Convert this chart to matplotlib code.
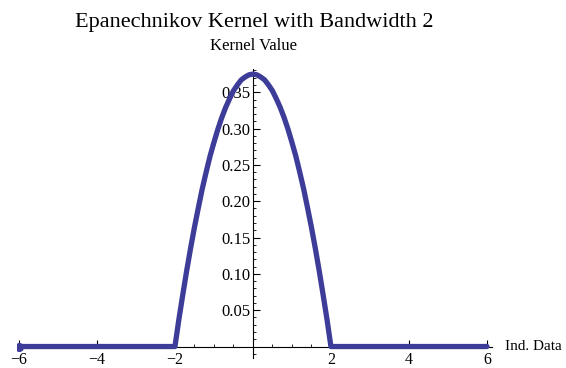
import matplotlib.pyplot as plt
import numpy as np
from matplotlib.ticker import MultipleLocator, FixedLocator
import matplotlib.transforms as mtransforms

plt.rcParams['font.family'] = ['Liberation Serif', 'DejaVu Serif']

# values (right half; curve is symmetric about 0)
x_half = [0.0, 0.1, 0.2, 0.3, 0.4, 0.5, 0.6, 0.7, 0.8, 0.9, 1.0,
          1.1, 1.2, 1.3, 1.4, 1.5, 1.6, 1.7, 1.8, 1.9, 2.0, 4.0, 6.0]
y_half = [0.375, 0.374, 0.371, 0.367, 0.360, 0.352, 0.341, 0.329, 0.315, 0.299, 0.281,
          0.262, 0.240, 0.217, 0.191, 0.164, 0.135, 0.104, 0.071, 0.037, 0.0, 0.0, 0.0]
xs = [-x for x in x_half[:0:-1]] + x_half
ys = y_half[:0:-1] + y_half

xticks = [-6, -4, -2, 2, 4, 6]
yticks = [0.05, 0.10, 0.15, 0.20, 0.25, 0.30, 0.35]

W, H = 566, 368
fig = plt.figure(figsize=(W / 100, H / 100), dpi=100)
ax = fig.add_axes([17 / W, 10 / H, 475 / W, 289 / H])
ax.set_xlim(-6.05, 6.13)
ax.set_ylim(-0.0158, 0.382)

col = '#3d3d99'
ax.plot(xs, ys, color=col, lw=3.8, solid_capstyle='round', solid_joinstyle='round', zorder=5)
ax.plot([xs[0]], [ys[0]], 'o', color=col, ms=5.5, zorder=5)

for s in ['top', 'right']:
    ax.spines[s].set_visible(False)
ax.spines['left'].set_position(('data', 0))
ax.spines['bottom'].set_position(('data', 0))
ax.spines['left'].set_linewidth(0.8)
ax.spines['bottom'].set_linewidth(0.8)

ax.xaxis.set_major_locator(FixedLocator(xticks))
ax.xaxis.set_minor_locator(MultipleLocator(0.5))
ax.yaxis.set_major_locator(FixedLocator(yticks))
ax.yaxis.set_minor_locator(MultipleLocator(0.01))
ax.set_xticklabels([str(t).replace('-', '\u2212') for t in xticks])
ax.set_yticklabels(['%.2f' % t for t in yticks])
ax.tick_params(which='major', direction='in', length=5, width=0.8, labelsize=12)
ax.tick_params(axis='x', which='major', labelsize=11.5, pad=4)
ax.tick_params(axis='y', which='major', pad=2)
ax.tick_params(which='minor', direction='in', length=2.5, width=0.6)

trans = mtransforms.blended_transform_factory(ax.transAxes, ax.transData)
ax.text(1.027, 0, 'Ind. Data', transform=trans, ha='left', va='center', fontsize=11)

fig.text(254 / W, 1 - 22 / H, 'Epanechnikov Kernel with Bandwidth 2', ha='center', va='center', fontsize=16)
fig.text(254 / W, 1 - 46 / H, 'Kernel Value', ha='center', va='center', fontsize=12)

fig.savefig('out.png', dpi=100)
